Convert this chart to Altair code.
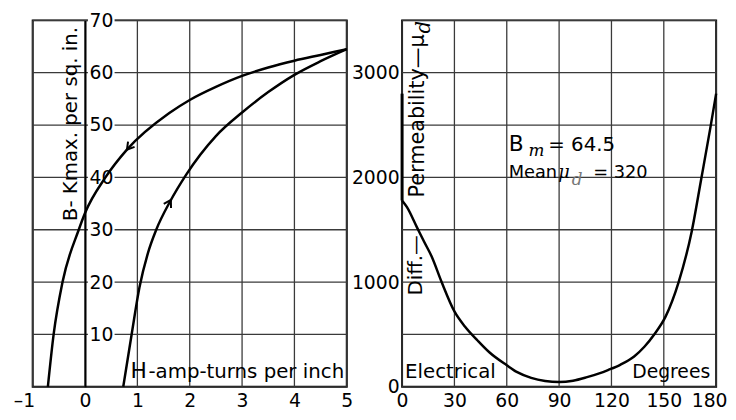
import altair as alt
import pandas as pd

# ---------------- data ----------------
# Left panel: hysteresis loop, B (kilolines / sq. in.) against H (amp-turns / inch)
H_TICKS = [-1, 0, 1, 2, 3, 4, 5]
B_GRID = [0, 10, 20, 30, 40, 50, 60, 70]
B_LABELS = [10, 20, 30, 40, 50, 60, 70]

ASC_H = [0.73, 0.89, 1.04, 1.2, 1.36, 1.63, 1.93, 2.5, 3.0, 3.5, 4.0, 4.5, 5.0]
ASC_B = [0, 10, 19, 25.5, 30, 35.5, 40.5, 47.9, 52.4, 56.3, 59.6, 62.2, 64.5]
DESC_H = [-0.71, -0.6, -0.43, -0.12, 0.0, 0.39, 0.8, 1.61, 2.0, 2.5, 3.0, 3.5, 4.0, 4.5, 5.0]
DESC_B = [0, 10, 20, 30, 33.2, 40, 45.3, 52.3, 54.8, 57.3, 59.4, 61.0, 62.3, 63.4, 64.5]
ARROW_H = [0.8, 1.64]
ARROW_B = [45.3, 35.7]
ARROW_DIR = [219, 30]

# Right panel: differential permeability against electrical degrees
DEG_TICKS = [0, 30, 60, 90, 120, 150, 180]
MU_GRID = [0, 500, 1000, 1500, 2000, 2500, 3000, 3500]
MU_LABELS = [0, 1000, 2000, 3000]
DEG = [0, 2.8, 8.4, 12.5, 16.9, 22.6, 30, 36, 43.4, 50, 60, 66, 74, 82, 90, 98,
       106, 113, 118, 125, 133, 139, 144.5, 151, 158.5, 166, 171.5, 176.6, 180]
MU = [1780, 1716, 1528, 1390, 1247, 1003, 720, 576, 440, 330, 206, 140, 85, 55, 45, 58,
      92, 128, 160, 210, 290, 385, 500, 670, 1000, 1484, 1990, 2466, 2800]
JUMP_DEG = [0]
JUMP_FROM = [1780]
JUMP_TO = [2800]

FONT = "DejaVu Sans"
GRID_COLOR = "#3a3a3a"
W, H = 318, 371

# ---------------- left panel ----------------
xL = alt.X("H:Q", scale=alt.Scale(domain=[-1, 5], nice=False, zero=False),
           axis=alt.Axis(values=H_TICKS, title=None, grid=False, ticks=False, domain=False,
                         labelFlush=False, labelPadding=5,
                         labelExpr="datum.value == -1 ? '\u20131' : datum.label",
                         labelAlign={"condition": {"test": "datum.value == -1", "value": "right"},
                                     "value": "center"},
                         labelOffset={"condition": {"test": "datum.value == -1", "value": 2},
                                      "value": 0}))
yL = alt.Y("B:Q", scale=alt.Scale(domain=[0, 70], nice=False),
           axis=alt.Axis(values=B_LABELS, title=None, grid=False, ticks=False,
                         orient="right", offset=-W * 5 / 6, labelPadding=4,
                         labelAlign="left", labelBaseline="middle", format="d",
                         domain=True, domainColor="black", domainWidth=2, zindex=1))

vgridL = alt.Chart(pd.DataFrame({"H": H_TICKS})).mark_rule(
    color=GRID_COLOR, strokeWidth=1.3).encode(x=xL)
hgridL = alt.Chart(pd.DataFrame({"B": B_GRID})).mark_rule(
    color=GRID_COLOR, strokeWidth=1.3).encode(y=yL)

box_shape = "M -1 -0.55 L 1 -0.55 L 1 0.55 L -1 0.55 Z"
label_boxes = alt.Chart(pd.DataFrame({"B": B_LABELS, "H": [0.31] * len(B_LABELS)})).mark_point(
    shape=box_shape, size=27 * 27, filled=True, color="white", opacity=1, strokeWidth=0
).encode(x=xL, y=yL)

loop_df = pd.DataFrame({
    "H": ASC_H + DESC_H,
    "B": ASC_B + DESC_B,
    "branch": ["asc"] * len(ASC_H) + ["desc"] * len(DESC_H),
})
loop = alt.Chart(loop_df).mark_line(color="black", strokeWidth=2.5, interpolate="monotone").encode(
    x=xL, y=yL, detail="branch:N")

chevron = "M -0.6 1 L 0 0 L 0.6 1"
arrows = alt.Chart(pd.DataFrame({"H": ARROW_H, "B": ARROW_B, "dir": ARROW_DIR})).mark_point(
    shape=chevron, size=200, filled=False, color="black", strokeWidth=2, opacity=1
).encode(x=xL, y=yL, angle=alt.Angle("dir:Q", scale=None))


def ltext(h, b, txt, **kw):
    return alt.Chart(pd.DataFrame({"H": [h], "B": [b], "t": [txt]})).mark_text(
        font=FONT, color="black", **kw).encode(x=xL, y=yL, text="t:N")


left = alt.layer(
    vgridL, hgridL, label_boxes, loop, arrows,
    ltext(-0.15, 50.2, "B- Kmax. per sq. in.", angle=270, align="center",
          baseline="alphabetic", fontSize=20),
    ltext(0.87, 1.64, "H", align="left", baseline="alphabetic", fontSize=22),
    ltext(4.95, 1.64, "-amp-turns per inch", align="right", baseline="alphabetic", fontSize=20),
).properties(width=W, height=H)

# ---------------- right panel ----------------
xR = alt.X("deg:Q", scale=alt.Scale(domain=[0, 180], nice=False, zero=False),
           axis=alt.Axis(values=DEG_TICKS, title=None, grid=False, ticks=False, domain=False,
                         labelFlush=False, labelPadding=5,
                         labelAlign={"condition": {"test": "datum.value == 180", "value": "right"},
                                     "value": "center"},
                         labelOffset={"condition": {"test": "datum.value == 180", "value": 11},
                                      "value": 0}))
yR = alt.Y("mu:Q", scale=alt.Scale(domain=[0, 3500], nice=False),
           axis=alt.Axis(values=MU_LABELS, title=None, grid=False, ticks=False, domain=False,
                         labelPadding=3, labelBaseline="middle", format="d"))

vgridR = alt.Chart(pd.DataFrame({"deg": DEG_TICKS})).mark_rule(
    color=GRID_COLOR, strokeWidth=1.3).encode(x=xR)
hgridR = alt.Chart(pd.DataFrame({"mu": MU_GRID})).mark_rule(
    color=GRID_COLOR, strokeWidth=1.3).encode(y=yR)

curve = alt.Chart(pd.DataFrame({"deg": DEG, "mu": MU})).mark_line(
    color="black", strokeWidth=2.5, interpolate="monotone").encode(x=xR, y=yR)
jump = alt.Chart(pd.DataFrame({"deg": JUMP_DEG, "mu": JUMP_TO, "mu2": JUMP_FROM})).mark_rule(
    color="black", strokeWidth=3).encode(x=xR, y=yR, y2="mu2:Q")


def rtext(d, m, txt, **kw):
    kw.setdefault("font", FONT)
    kw.setdefault("color", "black")
    return alt.Chart(pd.DataFrame({"deg": [d], "mu": [m], "t": [txt]})).mark_text(**kw).encode(
        x=xR, y=yR, text="t:N")


right = alt.layer(
    vgridR, hgridR, curve, jump,
    rtext(12.5, 1809, "Permeability\u2014\u03bc", angle=270, align="left",
          baseline="alphabetic", fontSize=21),
    rtext(15.8, 3375, "d", angle=270, align="left", baseline="alphabetic",
          fontSize=20, fontStyle="italic", font="DejaVu Serif"),
    rtext(11.3, 872, "Diff.\u2014", angle=270, align="left", baseline="alphabetic", fontSize=20),
    rtext(1.7, 85, "Electrical", align="left", baseline="alphabetic", fontSize=20),
    rtext(176.6, 85, "Degrees", align="right", baseline="alphabetic", fontSize=19),
    rtext(61.1, 2250, "B", align="left", baseline="alphabetic", fontSize=22),
    rtext(72.4, 2203, "m", align="left", baseline="alphabetic", fontSize=17,
          fontStyle="italic", font="DejaVu Serif"),
    rtext(83.8, 2250, "= 64.5", align="left", baseline="alphabetic", fontSize=20),
    rtext(61.1, 1997, "Mean", align="left", baseline="alphabetic", fontSize=18),
    rtext(89.5, 1997, "\u03bc", align="left", baseline="alphabetic", fontSize=18,
          fontStyle="italic", font="DejaVu Serif"),
    rtext(97.3, 1930, "d", align="left", baseline="alphabetic", fontSize=17,
          fontStyle="italic", font="DejaVu Serif", color="#777777"),
    rtext(109.5, 1997, "= 320", align="left", baseline="alphabetic", fontSize=18),
).properties(width=W, height=H)

chart = alt.hconcat(left, right, spacing=56, bounds="flush").properties(
    padding={"left": 4, "top": 0, "right": 0, "bottom": 0}
).configure_view(stroke="black", strokeWidth=2).configure_axis(
    labelFont=FONT, labelFontSize=19, labelColor="black"
)

chart.save("out.html", embed_options={"renderer": "svg", "actions": False})
